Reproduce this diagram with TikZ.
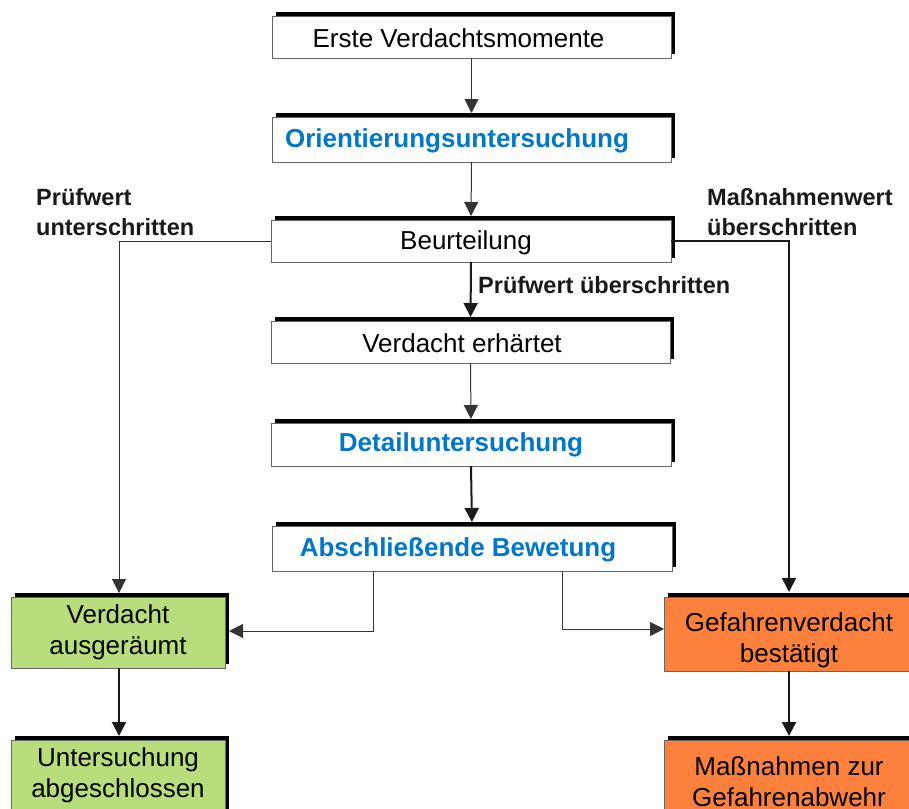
\documentclass[tikz,border=0pt]{standalone}
\usepackage{fontspec}
\setmainfont{Liberation Sans}
\usetikzlibrary{shadows,arrows.meta}
\definecolor{blueT}{RGB}{0,119,200}
\definecolor{greenF}{RGB}{183,221,124}
\definecolor{orangeF}{RGB}{253,128,60}
\tikzset{
  box/.style={draw=black!60, line width=0.9pt, fill=white, inner sep=0pt, outer sep=0pt,
    drop shadow={shadow xshift=4pt, shadow yshift=4pt, fill=black, opacity=1}},
  txt/.style={font=\fontsize{26}{31}\selectfont, inner sep=0pt, align=center},
  btxt/.style={font=\fontsize{26}{31}\selectfont\bfseries, text=blueT, inner sep=0pt},
  lbl/.style={font=\fontsize{23.5}{30}\selectfont\bfseries, text=black!90, inner sep=0pt, align=left},
  arr/.style={-{Triangle[width=14pt,length=14pt]}, draw=black!80, line width=1pt},
  tarr/.style={-{Triangle[width=14pt,length=14pt]}, draw=black!90, line width=2pt},
}
\begin{document}
\begin{tikzpicture}[x=1pt,y=-1pt]
\useasboundingbox (0,0) rectangle (909,808);
\clip (0,0) rectangle (909,808);
% boxes
\node[box, minimum width=399pt, minimum height=42pt] (e1) at (471.5,37) {};
\node[txt] (e1t) at ([xshift=-13pt,yshift=-1.5pt]e1.center) {Erste Verdachtsmomente};
\node[box, minimum width=399pt, minimum height=45pt] (orient) at (471.5,139.5) {};
\node[btxt] (orientt) at ([xshift=-14.5pt,yshift=-1.5pt]orient.center) {Orientierungsuntersuchung};
\node[box, minimum width=400pt, minimum height=42pt] (beurt) at (471,241) {};
\node[txt] (beurtt) at ([xshift=-5pt,yshift=-1.5pt]beurt.center) {Beurteilung};
\node[box, minimum width=399pt, minimum height=42pt] (verd) at (470.5,342) {};
\node[txt] (verdt) at ([xshift=-8.5pt,yshift=-1pt]verd.center) {Verdacht erhärtet};
\node[box, minimum width=400pt, minimum height=43pt] (detail) at (471,444.5) {};
\node[btxt] (detailt) at ([xshift=-10pt]detail.center) {Detailuntersuchung};
\node[box, minimum width=400pt, minimum height=45pt] (absch) at (472,548.5) {};
\node[btxt] (abscht) at ([xshift=-14pt,yshift=-1pt]absch.center) {Abschließende Bewetung};

\node[box, fill=greenF, minimum width=214pt, minimum height=71pt] (g1) at (118,632.5) {};
\node[txt] (g1t) at (g1.center) {Verdacht\\ausgeräumt};
\node[box, fill=greenF, minimum width=214pt, minimum height=80pt] (g2) at (118,780) {};
\node[txt] (g2t) at (118,775) {Untersuchung\\abgeschlossen};
\node[box, fill=orangeF, minimum width=250pt, minimum height=74pt] (o1) at (789,634) {};
\node[txt] (o1t) at (789,640.5) {Gefahrenverdacht\\bestätigt};
\node[box, fill=orangeF, minimum width=250pt, minimum height=80pt] (o2) at (789,780) {};
\node[txt] (o2t) at (789,782) {Maßnahmen zur\\Gefahrenabwehr};

% labels
\node[lbl, anchor=west] (lp) at (36,212) {Prüfwert\\unterschritten};
\node[lbl, anchor=west] (lm) at (707,212) {Maßnahmenwert\\überschritten};
\node[lbl, anchor=west] (lpu) at (478,285) {Prüfwert überschritten};

% connectors
\draw[arr, shorten >=4pt] (e1.south) -- (orient.north);
\draw[arr, shorten >=4pt] (orient.south) -- (beurt.north);
\draw[tarr, shorten >=4pt] (beurt.south) -- (verd.north);
\draw[arr, shorten >=4pt] (verd.south) -- (detail.north);
\draw[tarr, shorten >=4pt] (detail.south) -- (absch.north);
\draw[arr, shorten >=4pt] (beurt.west) -| ([xshift=1pt]g1.north);
\draw[arr, line width=1.6pt, draw=black!90, shorten >=5pt] (beurt.east) -| (o1.north);
\draw[arr, shorten >=4pt] ([xshift=-99pt]absch.south) |- ([yshift=1.5pt]g1.east);
\draw[arr] ([xshift=90pt]absch.south) |- ([yshift=5pt]o1.west);
\draw[tarr, shorten >=4pt] ([xshift=1pt]g1.south) -- ([xshift=1pt]g2.north);
\draw[tarr, shorten >=4pt] (o1.south) -- (o2.north);
\end{tikzpicture}
\end{document}
